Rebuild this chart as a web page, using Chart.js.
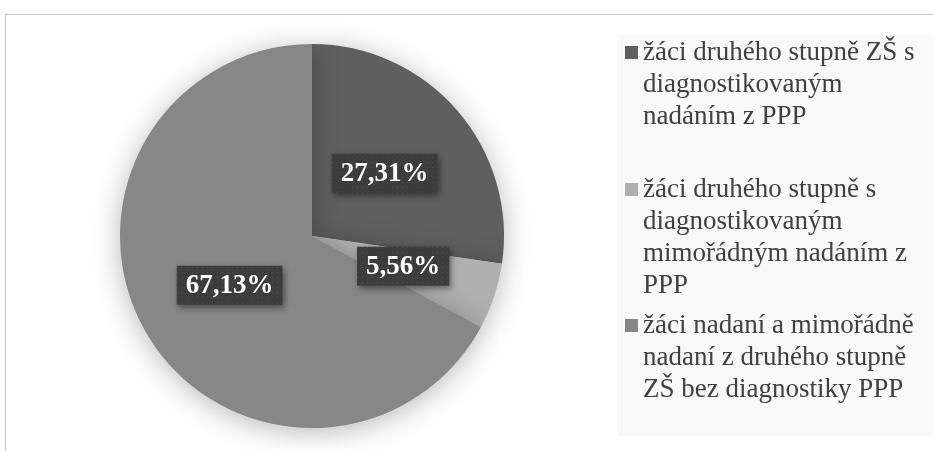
<!DOCTYPE html>
<html><head><meta charset="utf-8">
<script src="https://cdn.jsdelivr.net/npm/chart.js@4.4.1/dist/chart.umd.min.js"></script>
<style>
html,body{margin:0;padding:0;background:#fff;}
#wrap{position:relative;width:933px;height:451px;overflow:hidden;}
#frame{position:absolute;left:5px;top:14px;width:940px;height:450px;border-left:1px solid #c6c6c6;border-top:1px solid #c6c6c6;}
#c{position:absolute;left:0;top:0;}
</style></head>
<body><div id="wrap"><div id="frame"></div><canvas id="c" width="933" height="451"></canvas></div>
<script>
const categories = [
  "žáci druhého stupně ZŠ s diagnostikovaným nadáním z PPP",
  "žáci druhého stupně s diagnostikovaným mimořádným nadáním z PPP",
  "žáci nadaní a mimořádně nadaní z druhého stupně ZŠ bez diagnostiky PPP"
];
const values = [27.31, 5.56, 67.13];
const valueLabels = ["27,31%", "5,56%", "67,13%"];
const colors = ["#5f5f5f", "#b0b0b0", "#878787"];

const SERIF = '"Liberation Serif", "Times New Roman", serif';

function makePattern(ctx) {
  const p = document.createElement('canvas');
  p.width = 5; p.height = 5;
  const g = p.getContext('2d');
  g.fillStyle = '#3c3c3c'; g.fillRect(0, 0, 5, 5);
  g.fillStyle = '#4e4e4e'; g.fillRect(2, 2, 1, 1);
  return ctx.createPattern(p, 'repeat');
}

const shadowPlugin = {
  id: 'pieShadow',
  beforeDatasetsDraw(chart) {
    const ctx = chart.ctx;
    ctx.save();
    ctx.shadowColor = 'rgba(0,0,0,0.28)';
    ctx.shadowBlur = 28;
    ctx.shadowOffsetY = 4;
  },
  afterDatasetsDraw(chart) {
    chart.ctx.restore();
  }
};

const labelPlugin = {
  id: 'boxLabels',
  afterDatasetsDraw(chart) {
    const ctx = chart.ctx;
    const meta = chart.getDatasetMeta(0);
    const pat = makePattern(ctx);
    ctx.save();
    ctx.font = 'bold 27px ' + SERIF;
    ctx.textAlign = 'center';
    ctx.textBaseline = 'middle';
    meta.data.forEach((arc, i) => {
      const mid = (arc.startAngle + arc.endAngle) / 2;
      const r = arc.outerRadius * 0.5;
      const x = arc.x + Math.cos(mid) * r;
      const y = arc.y + Math.sin(mid) * r;
      const w = ctx.measureText(valueLabels[i]).width + 18;
      const h = 39;
      ctx.save();
      ctx.shadowColor = 'rgba(0,0,0,0.45)';
      ctx.shadowBlur = 6;
      ctx.shadowOffsetX = 2;
      ctx.shadowOffsetY = 3;
      ctx.fillStyle = pat;
      ctx.fillRect(x - w / 2, y - h / 2, w, h);
      ctx.restore();
      ctx.fillStyle = '#ffffff';
      ctx.fillText(valueLabels[i], x, y + 1);
    });
    ctx.restore();
  }
};

function wrapText(ctx, text, maxW) {
  const words = text.split(' ');
  const lines = [];
  let cur = '';
  words.forEach(w => {
    const t = cur ? cur + ' ' + w : w;
    if (ctx.measureText(t).width > maxW && cur) { lines.push(cur); cur = w; }
    else cur = t;
  });
  if (cur) lines.push(cur);
  return lines;
}

const legendPlugin = {
  id: 'sideLegend',
  afterDraw(chart) {
    const ctx = chart.ctx;
    ctx.save();
    ctx.fillStyle = '#f9f9f9';
    ctx.fillRect(617, 35, 320, 401);
    ctx.font = '27px ' + SERIF;
    ctx.textBaseline = 'middle';
    ctx.textAlign = 'left';
    const firstLine = [52, 189, 325];
    const lh = 32;
    const colorsDs = chart.data.datasets[0].backgroundColor;
    chart.data.labels.forEach((lab, i) => {
      const lines = wrapText(ctx, lab, 284);
      ctx.fillStyle = colorsDs[i];
      ctx.fillRect(625, firstLine[i] - 6, 13, 13);
      ctx.fillStyle = '#404040';
      lines.forEach((ln, k) => ctx.fillText(ln, 643, firstLine[i] + k * lh + 1));
    });
    ctx.restore();
  }
};

new Chart(document.getElementById('c'), {
  type: 'pie',
  data: {
    labels: categories,
    datasets: [{
      data: values,
      backgroundColor: colors,
      borderWidth: 0
    }]
  },
  options: {
    responsive: false,
    animation: false,
    layout: { padding: { left: 120, right: 429, top: 44, bottom: 23 } },
    plugins: { legend: { display: false }, tooltip: { enabled: false } }
  },
  plugins: [shadowPlugin, labelPlugin, legendPlugin]
});
</script></body></html>
